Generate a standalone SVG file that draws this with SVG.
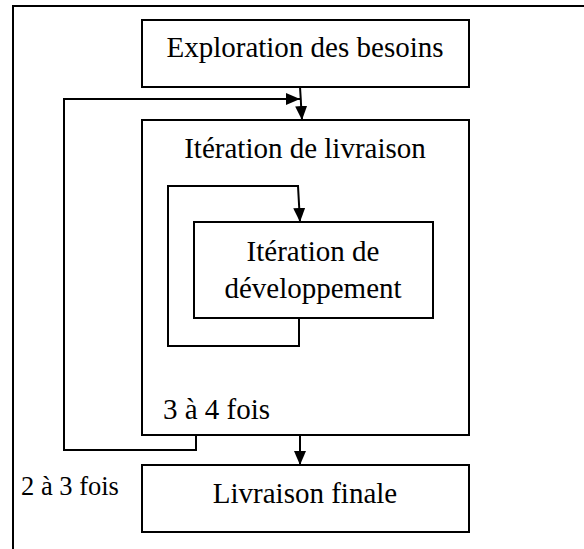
<svg xmlns="http://www.w3.org/2000/svg" width="584" height="549" viewBox="0 0 584 549">
<defs>
<marker id="ah" viewBox="0 0 14 12" refX="14" refY="6" markerWidth="14" markerHeight="12" markerUnits="userSpaceOnUse" orient="auto">
<path d="M0,0 L14,6 L0,12 Z" fill="#000"/>
</marker>
<style>
.box{fill:#fff;stroke:#000;stroke-width:2}
.ln{fill:none;stroke:#000;stroke-width:2}
.t{font-size:29px;fill:#000}
.m{text-anchor:middle}
</style>
</defs>
<rect width="584" height="549" fill="#fff"/>
<path class="ln" d="M13,549 V6 H584"/>
<g font-family="'Liberation Serif', 'Times New Roman', 'DejaVu Serif', serif">
<g id="exploration">
<rect class="box" x="142" y="20" width="327" height="67"/>
<text class="t m" x="305" y="57">Exploration des besoins</text>
</g>
<g id="iteration-livraison">
<rect class="box" x="142" y="120" width="327" height="315"/>
<text class="t m" x="305" y="158">Itération de livraison</text>
<text class="t" x="163" y="419">3 à 4 fois</text>
</g>
<g id="iteration-developpement">
<rect class="box" x="194" y="222" width="239" height="96"/>
<text class="t m" x="313" y="261">Itération de</text>
<text class="t m" x="313" y="298">développement</text>
</g>
<g id="livraison-finale">
<rect class="box" x="142" y="465" width="327" height="67"/>
<text class="t m" x="305" y="503">Livraison finale</text>
</g>
<g id="label-2a3">
<text class="t" x="21" y="495" style="font-size:26.5px">2 à 3 fois</text>
</g>
</g>
<g id="connectors">
<path class="ln" d="M300,87 L302,120" marker-end="url(#ah)"/>
<path class="ln" d="M196,435 V450 H64 V99 H300" marker-end="url(#ah)"/>
<path class="ln" d="M299,318 V346 H168 V186 H298 L300,222" marker-end="url(#ah)"/>
<path class="ln" d="M300,435 V465" marker-end="url(#ah)"/>
</g>
</svg>
